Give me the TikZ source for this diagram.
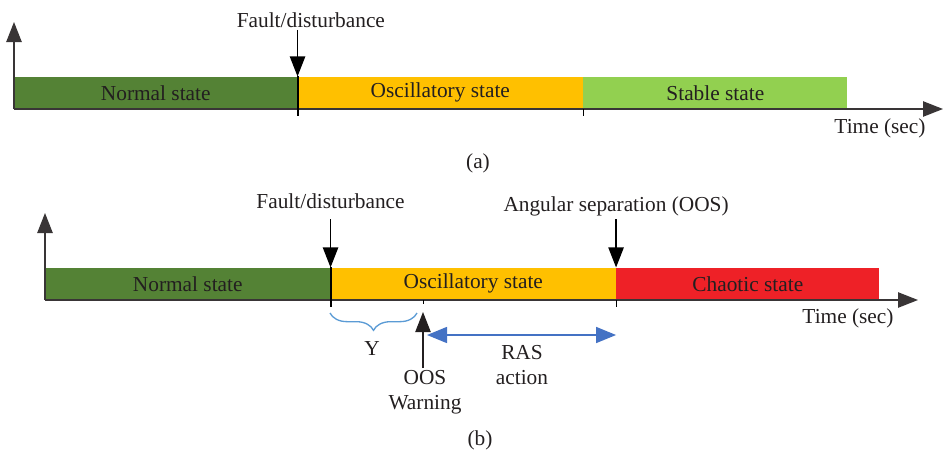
\documentclass[tikz,border=0pt]{standalone}
\usepackage{fontspec}
\setmainfont{Liberation Serif}
\usetikzlibrary{positioning}
\usetikzlibrary {arrows.meta}
\usetikzlibrary{decorations.pathreplacing}
\definecolor{normalgreen}{HTML}{548235}
\definecolor{oscorange}{HTML}{FFC000}
\definecolor{stablegreen}{HTML}{92D050}
\definecolor{chaosred}{HTML}{EE2127}
\definecolor{rasblue}{HTML}{4472C4}
\definecolor{braceblue}{HTML}{5B9BD5}
\definecolor{txtgray}{HTML}{231F20}
\tikzset{seg/.style={rectangle,draw=none,inner sep=0pt,
minimum height=24pt,text=txtgray}}
\tikzset{lbl/.style={inner sep=1pt,text=txtgray}}
\tikzset{axisline/.style={line width=1.1pt,draw=txtgray!90,
-{Triangle[length=15pt,width=11.5pt]}}}
\tikzset{eventarrow/.style={line width=0.9pt,draw=black,
-{Triangle[length=15pt,width=11.5pt]}}}

\begin{document}
\begin{tikzpicture}[x=0.75pt,y=-0.75pt,font=\fontsize{16}{19}\selectfont]
    \useasboundingbox (0,0) rectangle (943,458);

        % (a)
        \node[seg,fill=normalgreen,anchor=south west,minimum width=212.25pt] (normA) at (14,109) {Normal state};
        \node[seg,fill=oscorange,minimum width=213.75pt] (oscA) [right=0pt of normA] {Oscillatory state};
        \node[seg,fill=stablegreen,minimum width=198pt] (stabA) [right=0pt of oscA] {Stable state};

        \coordinate (axisAend) at (943,109);
        \coordinate (axisAtop) at (14,22);
        \draw[axisline] (normA.south west) -- (axisAtop);
        \draw[axisline] (normA.south west) -- (axisAend);
        \draw[line width=1.5pt,black] (normA.north east) -- ([yshift=-5pt]normA.south east);
        \draw[line width=0.6pt] (oscA.south east) -- ([yshift=-5pt]oscA.south east);

        \coordinate (faultAtop) at ([yshift=35pt]normA.north east);
        \draw[eventarrow] (faultAtop) -- (normA.north east);
        \node[lbl,above=0pt of faultAtop,xshift=10pt] (faultA) {Fault/disturbance};
        \node[lbl] (timeA) at (880,128) {Time (sec)};
        \node[lbl] (capA) at (478,163) {(a)};

        % (b)
        \node[seg,fill=normalgreen,anchor=south west,minimum width=213.75pt] (normB) at (45,300) {Normal state};
        \node[seg,fill=oscorange,minimum width=213.75pt] (oscB) [right=0pt of normB] {Oscillatory state};
        \node[seg,fill=chaosred,minimum width=197.25pt] (chaosB) [right=0pt of oscB] {Chaotic state};

        \coordinate (axisBend) at (918,300);
        \coordinate (axisBtop) at (45,213);
        \draw[axisline] (normB.south west) -- (axisBtop);
        \draw[axisline] (normB.south west) -- (axisBend);
        \draw[line width=1.5pt,black] (normB.north east) -- ([yshift=-5pt]normB.south east);
        \draw[line width=0.6pt] (oscB.south east) -- ([yshift=-5pt]oscB.south east);

        \coordinate (faultBtop) at ([yshift=36pt]normB.north east);
        \draw[eventarrow] (faultBtop) -- (normB.north east);
        \node[lbl,above=7pt of faultBtop] (faultB) {Fault/disturbance};

        \coordinate (oosBtop) at ([yshift=36pt]oscB.north east);
        \draw[eventarrow] (oosBtop) -- (oscB.north east);
        \node[lbl,above=1pt of oosBtop] (angsep) {Angular separation (OOS)};

        \coordinate (warnTick) at (423,300);
        \draw[line width=0.6pt] (warnTick) -- ([yshift=-3pt]warnTick);
        \coordinate (warnTip) at (423,312);
        \coordinate (warnFoot) at (423,368);
        \draw[eventarrow,draw=txtgray] (warnFoot) -- (warnTip);
        \node[lbl,align=center] (warnText) at (425,392) {OOS\\Warning};

        \coordinate (braceL) at (330,313);
        \coordinate (braceR) at (417,313);
        \draw[braceblue,line width=1pt,decorate,decoration={brace,mirror,amplitude=13pt}] (braceL) -- (braceR);
        \node[lbl] (ylbl) at (372,349) {Y};

        \coordinate (rasL) at (427,335);
        \draw[rasblue,line width=1.1pt,{Triangle[length=15pt,width=12pt]}-{Triangle[length=15pt,width=12pt]}] (rasL) -- (rasL -| oscB.south east);
        \node[lbl,align=center] (rasText) at (522,365) {RAS\\action};

        \node[lbl] (timeB) at (848,318) {Time (sec)};
        \node[lbl] (capB) at (480,440) {(b)};

    \end{tikzpicture}
\end{document}
